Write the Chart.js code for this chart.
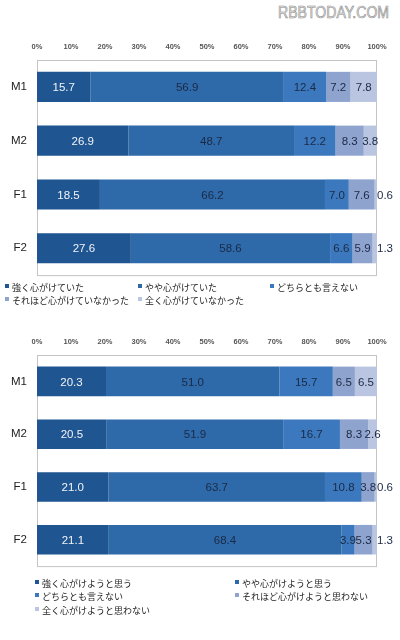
<!DOCTYPE html>
<html>
<head>
<meta charset="utf-8">
<script src="https://cdn.jsdelivr.net/npm/chart.js@4"></script>
<style>
body { margin: 0; background: #fff; width: 400px; height: 640px; position: relative; overflow: hidden; font-family: "Noto Sans CJK JP", sans-serif; }
.site { position: absolute; left: 278px; top: 4px; font: 16px "Liberation Sans", Arial, sans-serif; color: #e4e4e4; -webkit-text-stroke: 0.6px #8a8a8a; transform: scaleX(0.88); transform-origin: left top; white-space: nowrap; }
canvas { position: absolute; left: 0; }
.lg { position: absolute; font-size: 9px; color: #222; line-height: 12px; white-space: nowrap; }
.lg i { display: inline-block; width: 4px; height: 4px; margin-right: 3px; vertical-align: top; margin-top: 2px; }
</style>
</head>
<body>
<div class="site">RBBTODAY.COM</div>
<canvas id="chart1" width="400" height="260" style="top:32px"></canvas>
<canvas id="chart2" width="400" height="256" style="top:327px"></canvas>
<div id="legends"></div>
<script>
const categories = ['M1', 'M2', 'F1', 'F2'];
const tickLabels = ['0%', '10%', '20%', '30%', '40%', '50%', '60%', '70%', '80%', '90%', '100%'];

// upper chart
const pastNames = ['強く心がけていた', 'やや心がけていた', 'どちらとも言えない', 'それほど心がけていなかった', '全く心がけていなかった'];
const pastStrong = [15.7, 26.9, 18.5, 27.6];
const pastSomewhat = [56.9, 48.7, 66.2, 58.6];
const pastNeutral = [12.4, 12.2, 7.0, 6.6];
const pastNotMuch = [7.2, 8.3, 7.6, 5.9];
const pastNone = [7.8, 3.8, 0.6, 1.3];

// lower chart
const futureNames = ['強く心がけようと思う', 'やや心がけようと思う', 'どちらとも言えない', 'それほど心がけようと思わない', '全く心がけようと思わない'];
const futureStrong = [20.3, 20.5, 21.0, 21.1];
const futureSomewhat = [51.0, 51.9, 63.7, 68.4];
const futureNeutral = [15.7, 16.7, 10.8, 3.9];
const futureNotMuch = [6.5, 8.3, 3.8, 5.3];
const futureNone = [6.5, 2.6, 0.6, 1.3];

const colors = ['#1f5591', '#2e69a9', '#3c78bd', '#8fa3cf', '#b9c5e1'];

// grey frame round the plot area
const boxPlugin = {
    id: 'box',
    beforeDatasetsDraw(chart) {
        const c = chart.ctx, a = chart.chartArea;
        c.save();
        c.strokeStyle = '#c4c4c4';
        c.lineWidth = 1;
        c.strokeRect(a.left + 0.5, a.top + 0.5, a.right - a.left - 1, a.bottom - a.top);
        c.restore();
    }
};

// numbers on the segments, tiny ones go past the end of the bar
const valuePlugin = {
    id: 'values',
    afterDatasetsDraw(chart) {
        const c = chart.ctx, a = chart.chartArea;
        c.save();
        c.font = '11.5px "Liberation Sans", Arial, sans-serif';
        c.textAlign = 'center';
        c.textBaseline = 'middle';
        chart.data.datasets.forEach(function(ds, i) {
            chart.getDatasetMeta(i).data.forEach(function(bar, j) {
                const v = ds.data[j];
                let x = (bar.x + bar.base) / 2;
                if (v < 2) x = a.right + 8;
                c.fillStyle = i === 0 ? '#f2f4f8' : '#1b2a45';
                c.fillText(v.toFixed(1), x, bar.y + 1);
            });
        });
        c.restore();
    }
};

function makeChart(id, names, series) {
    var ctx = document.getElementById(id).getContext('2d');
    return new Chart(ctx, {
        type: 'bar',
        data: {
            labels: categories,
            datasets: series.map(function(d, i) {
                return { label: names[i], data: d, backgroundColor: colors[i], barPercentage: 0.56, categoryPercentage: 1 };
            })
        },
        options: {
            indexAxis: 'y',
            responsive: false,
            animation: false,
            layout: { padding: { left: 0, right: 23, top: 0, bottom: 15 } },
            plugins: { legend: { display: false }, tooltip: { enabled: false } },
            scales: {
                x: {
                    stacked: true, position: 'top', min: 0, max: 100,
                    ticks: {
                        stepSize: 10, padding: 9, color: '#555', autoSkip: false, maxRotation: 0,
                        font: { size: 7.5, weight: 'bold', family: 'Liberation Sans' },
                        callback: function(v, i) { return tickLabels[i]; }
                    },
                    grid: { display: false, drawTicks: false },
                    border: { display: false },
                    afterFit: function(s) { s.height = 28; }
                },
                y: {
                    stacked: true,
                    ticks: { padding: 10, color: '#222', font: { size: 11.5, family: 'Liberation Sans' } },
                    grid: { display: false, drawTicks: false },
                    border: { display: false },
                    afterFit: function(s) { s.width = 37; }
                }
            }
        },
        plugins: [boxPlugin, valuePlugin]
    });
}

function makeLegend(names, pos) {
    var box = document.getElementById('legends');
    names.forEach(function(n, i) {
        var d = document.createElement('div');
        d.className = 'lg';
        d.style.left = pos[i][0] + 'px';
        d.style.top = pos[i][1] + 'px';
        d.innerHTML = '<i style="background:' + colors[i] + '"></i>' + n;
        box.appendChild(d);
    });
}

makeChart('chart1', pastNames, [pastStrong, pastSomewhat, pastNeutral, pastNotMuch, pastNone]);
makeChart('chart2', futureNames, [futureStrong, futureSomewhat, futureNeutral, futureNotMuch, futureNone]);
makeLegend(pastNames, [[5, 282], [138, 282], [270, 282], [5, 295], [138, 295]]);
makeLegend(futureNames, [[35, 578], [235, 578], [35, 591], [235, 591], [35, 605]]);
</script>
</body>
</html>
